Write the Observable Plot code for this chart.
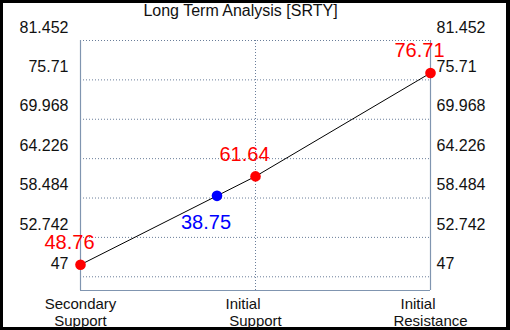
<!DOCTYPE html>
<html>
<head>
<meta charset="utf-8">
<script src="https://cdn.jsdelivr.net/npm/d3@7"></script>
<script src="https://cdn.jsdelivr.net/npm/@observablehq/plot@0.6"></script>
<style>
  html, body { margin: 0; padding: 0; background: #000; width: 510px; height: 330px; overflow: hidden; }
  #chart { position: absolute; left: 3px; top: 3px; width: 503px; height: 324px; background: #fff; }
  #chart svg { display: block; }
</style>
</head>
<body>
<div id="chart"></div>
<script>
const title = "Long Term Analysis [SRTY]";
const tickValues = [47, 52.742, 58.484, 64.226, 69.968, 75.71, 81.452];
const tickLabels = ["47", "52.742", "58.484", "64.226", "69.968", "75.71", "81.452"];
const levelX = [0, 1, 2];
const xTickLabels = ["Secondary\nSupport", "Initial\u00A0\u00A0\u00A0\u00A0\u00A0\u00A0\nSupport", "Initial\u00A0\u00A0\u00A0\u00A0\u00A0\u00A0\nResistance"];
const levelValues = [48.76, 61.64, 76.71];
const levelLabels = ["48.76", "61.64", "76.71"];
const currentX = [0.78];
const currentY = [58.8];
const currentLabel = ["38.75"];
const yMin = 45.0;

const font = "'Liberation Sans', Arial, sans-serif";
const levels = levelX.map((x, i) => ({x, y: levelValues[i], label: levelLabels[i]}));
const current = currentX.map((x, i) => ({x, y: currentY[i], label: currentLabel[i]}));
const ticks = tickValues.map((v, i) => ({v, label: tickLabels[i]}));

const gridColor = "#6a7e9a";
const axisColor = "#8095b0";

const chart = Plot.plot({
  width: 503,
  height: 324,
  marginLeft: 77,
  marginRight: 76,
  marginTop: 37,
  marginBottom: 37,
  x: {domain: [0, 2], axis: null},
  y: {domain: [yMin, tickValues[tickValues.length - 1]], axis: null},
  style: {fontFamily: font, fontSize: "16px", background: "white", color: "black", overflow: "visible"},
  marks: [
    Plot.ruleY(ticks, {y: "v", stroke: gridColor, strokeDasharray: "1,2", strokeWidth: 1}),
    Plot.ruleX([levelX[1]], {stroke: gridColor, strokeDasharray: "1,2", strokeWidth: 1}),
    Plot.ruleX([levelX[0], levelX[2]], {stroke: axisColor, strokeWidth: 1.2}),
    Plot.ruleY([yMin], {stroke: axisColor, strokeWidth: 1.2}),
    Plot.text(ticks, {y: "v", text: "label", frameAnchor: "left", textAnchor: "end", dx: -12, dy: -13, fontSize: 16, fill: "#111"}),
    Plot.text(ticks, {y: "v", text: "label", frameAnchor: "right", textAnchor: "start", dx: 6, dy: -13, fontSize: 16, fill: "#111"}),
    Plot.text(levelX, {x: d => d, text: (d, i) => xTickLabels[i], frameAnchor: "bottom", lineAnchor: "top", dy: 6, lineHeight: 1.16, fontSize: 15, fill: "#111"}),
    Plot.text([title], {frameAnchor: "top", lineAnchor: "top", dx: -15, dy: -36, fontSize: 16, fill: "#111"}),
    Plot.line(levels, {x: "x", y: "y", stroke: "black", strokeWidth: 1}),
    Plot.dot(levels, {x: "x", y: "y", r: 5.3, fill: "#ff0000", stroke: "none"}),
    Plot.dot(current, {x: "x", y: "y", r: 5.3, fill: "#0000ff", stroke: "none"}),
    Plot.text(levels, {x: "x", y: "y", text: "label", dx: -11, dy: -22, fontSize: 20, fill: "#ff0000"}),
    Plot.text(current, {x: "x", y: "y", text: "label", dx: -11, dy: 27, fontSize: 20, fill: "#0000ff"})
  ]
});
document.getElementById("chart").appendChild(chart);
</script>
</body>
</html>
